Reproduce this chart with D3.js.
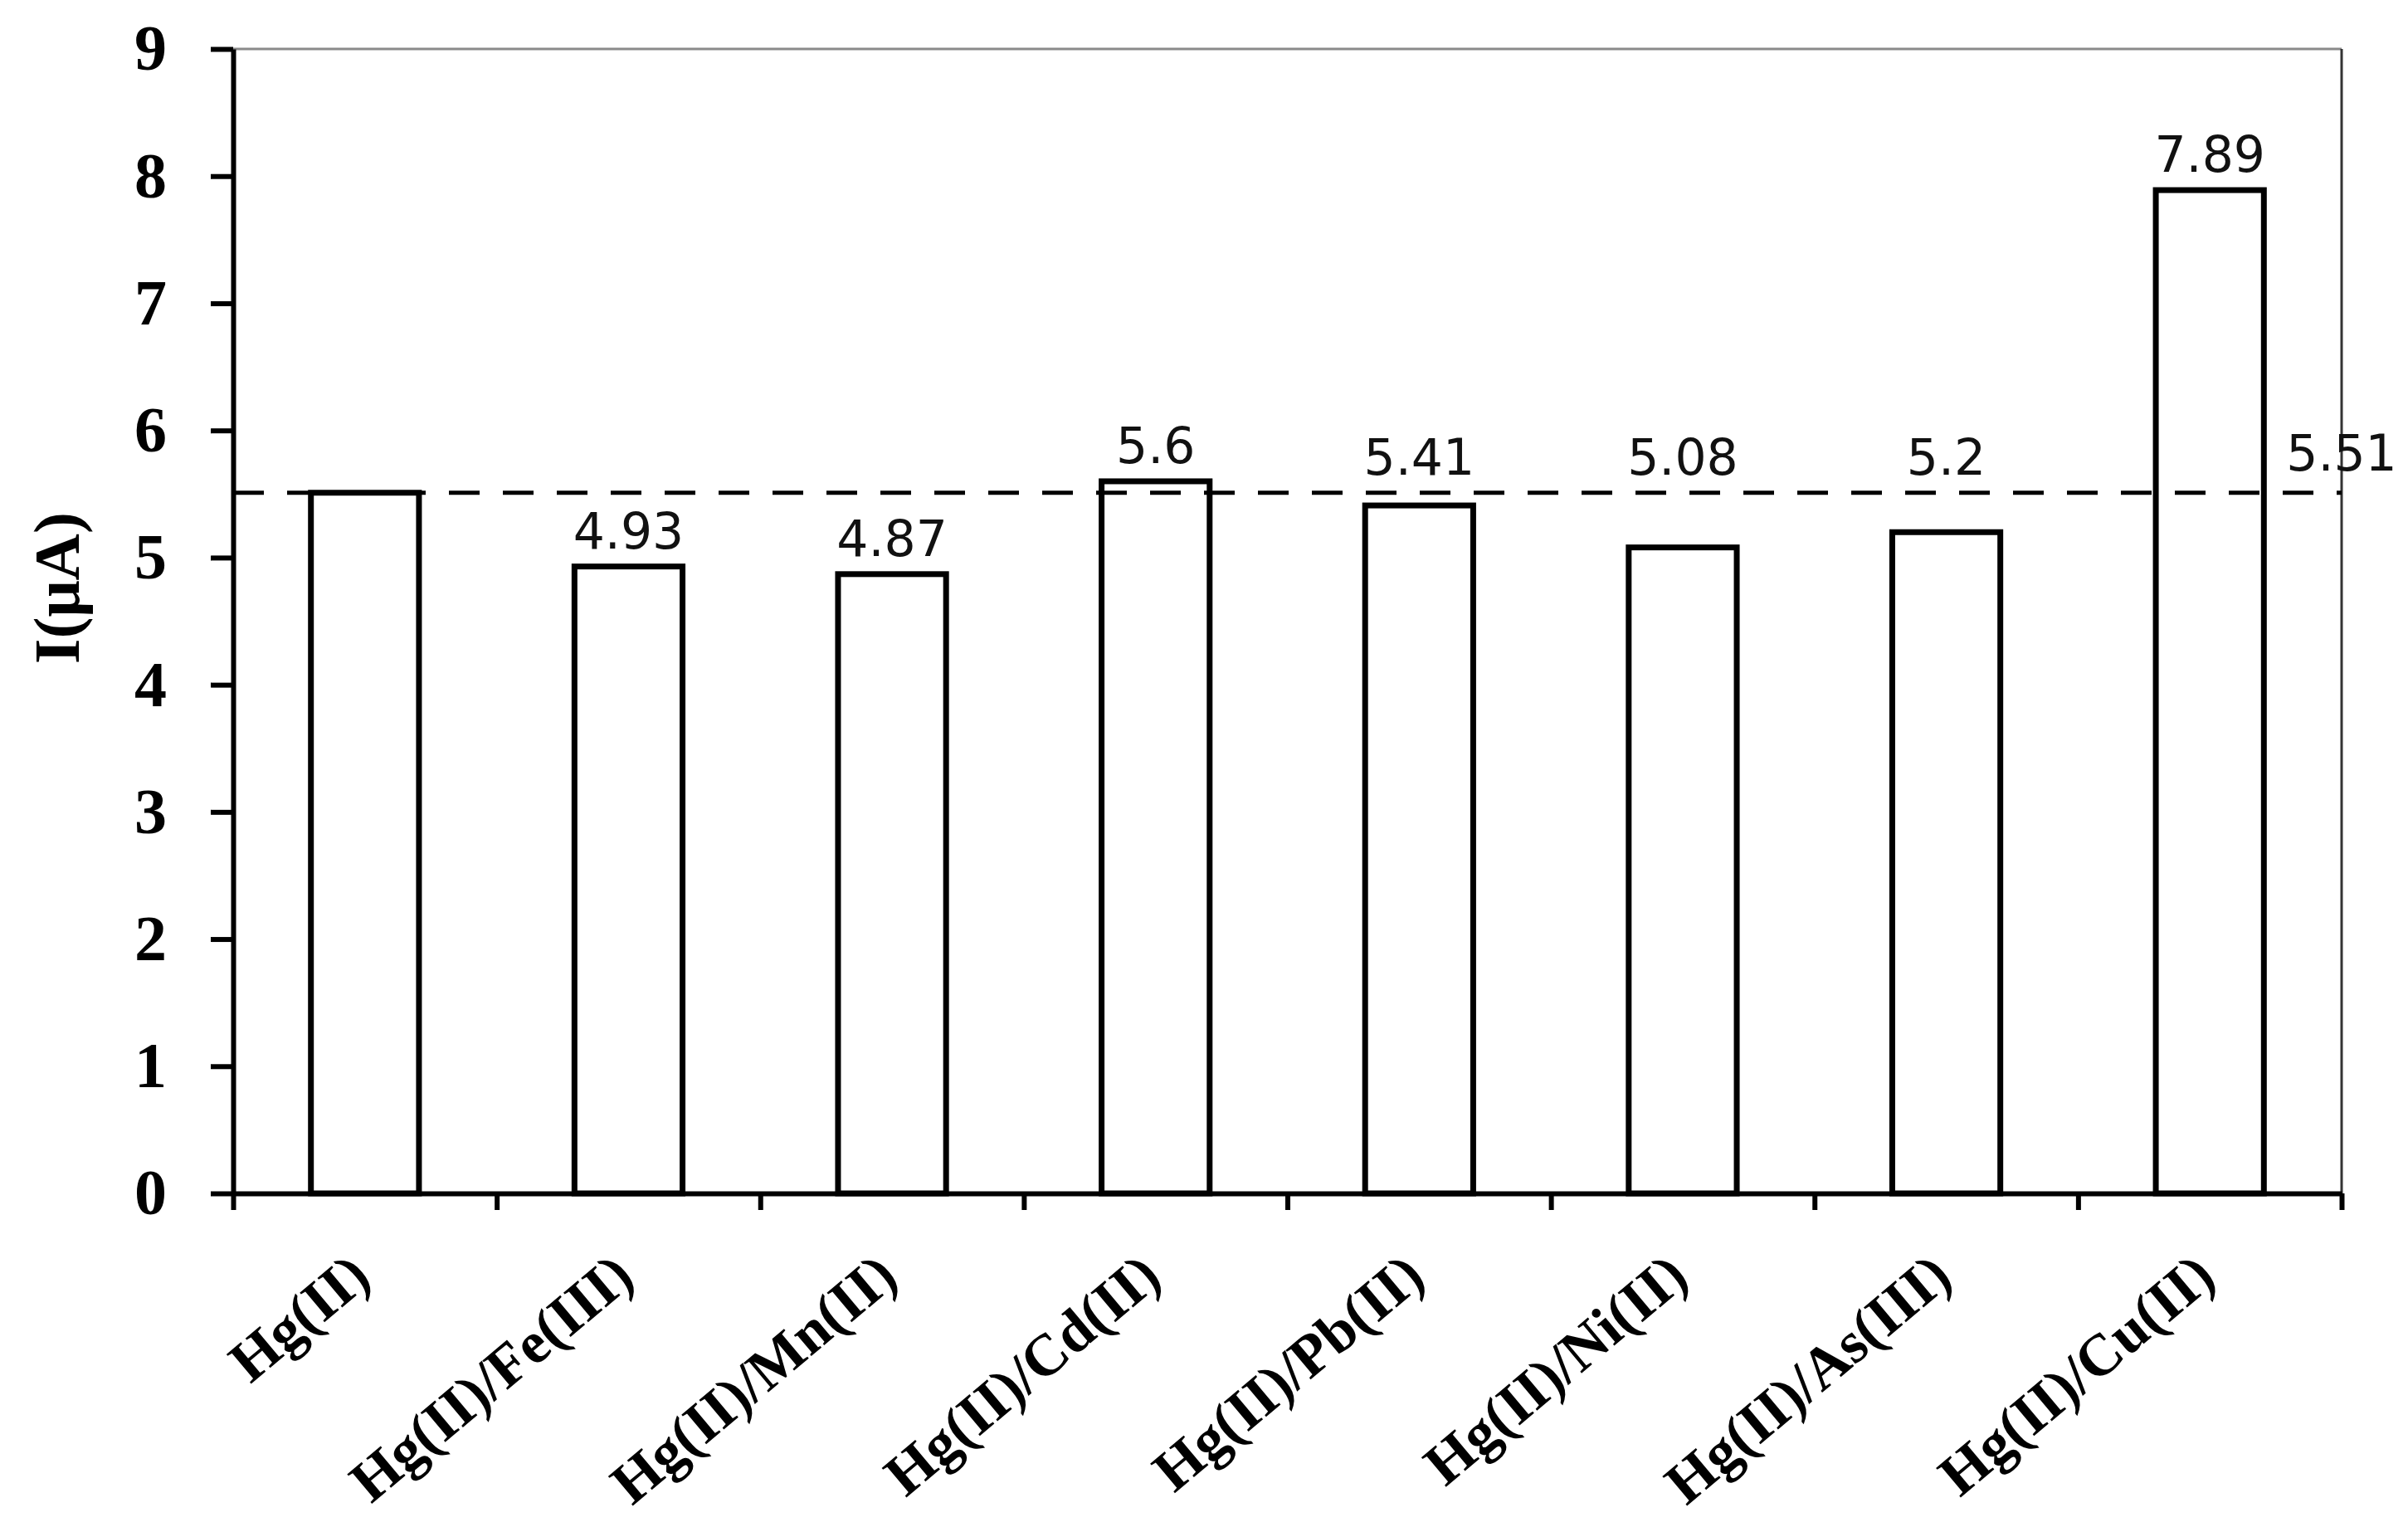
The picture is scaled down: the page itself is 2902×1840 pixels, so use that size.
<!DOCTYPE html>
<html>
<head>
<meta charset="utf-8">
<script src="https://cdn.jsdelivr.net/npm/d3@7"></script>
<style>
  body { margin: 0; background: #fff; }
  .axis text { font-family: "Liberation Serif", "Times New Roman", serif; font-weight: bold; font-size: 78px; fill: #000; }
  .axis path, .axis line { stroke: #000; stroke-width: 6; }
  .axis text.cat { font-size: 71px; }
  .value { font-family: "DejaVu Sans", sans-serif; font-size: 60px; fill: #111; }
</style>
</head>
<body>
<div id="chart"></div>
<script>
var categories = ["Hg(II)", "Hg(II)/Fe(III)", "Hg(II)/Mn(II)", "Hg(II)/Cd(II)",
                  "Hg(II)/Pb(II)", "Hg(II)/Ni(II)", "Hg(II)/As(III)", "Hg(II)/Cu(II)"];
var values = [5.51, 4.93, 4.87, 5.6, 5.41, 5.08, 5.2, 7.89];
var refValue = 5.51;   // Hg(II) alone, shown as the dashed line
var yTicks = [0, 1, 2, 3, 4, 5, 6, 7, 8, 9];

var svg = d3.select("#chart").append("svg")
    .attr("width", 2902)
    .attr("height", 1840),
    margin = { top: 59, right: 80, bottom: 402, left: 281 },
    width = 2902 - margin.left - margin.right,
    height = 1840 - margin.top - margin.bottom;

var x = d3.scaleBand().domain(categories).range([0, width]).paddingInner(0.59).paddingOuter(0.295),
    xEdge = d3.scaleLinear().domain([0, categories.length]).range([0, width]),
    y = d3.scaleLinear().domain([0, 9]).range([height, 0]);

var g = svg.append("g")
    .attr("transform", "translate(" + margin.left + "," + margin.top + ")");

// top and right frame
g.append("line")
    .attr("x1", 0).attr("x2", width).attr("y1", 0).attr("y2", 0)
    .attr("stroke", "#8a8a8a").attr("stroke-width", 3);
g.append("line")
    .attr("x1", width).attr("x2", width).attr("y1", 0).attr("y2", height)
    .attr("stroke", "#333").attr("stroke-width", 3);

g.selectAll(".bar")
    .data(values)
    .enter().append("rect")
    .attr("class", "bar")
    .attr("x", function (d, i) { return x(categories[i]); })
    .attr("y", function (d) { return y(d); })
    .attr("width", x.bandwidth())
    .attr("height", function (d) { return height - y(d); })
    .attr("fill", "#fff")
    .attr("stroke", "#000")
    .attr("stroke-width", 7);

g.append("line")
    .attr("x1", 0).attr("x2", width)
    .attr("y1", y(refValue)).attr("y2", y(refValue))
    .attr("stroke", "#000")
    .attr("stroke-width", 5)
    .attr("stroke-dasharray", "37,28");

g.append("g")
    .attr("class", "axis axis--y")
    .call(d3.axisLeft(y).tickValues(yTicks).tickSize(27).tickSizeOuter(0).tickPadding(53));

g.append("g")
    .attr("class", "axis axis--x")
    .attr("transform", "translate(0," + height + ")")
    .call(d3.axisBottom(xEdge).tickValues(d3.range(categories.length + 1)).tickFormat("").tickSize(20).tickSizeOuter(0));

g.append("g")
    .attr("class", "axis")
    .selectAll("text")
    .data(categories)
    .enter().append("text")
    .attr("class", "cat")
    .attr("text-anchor", "end")
    .attr("transform", function (d) {
        return "translate(" + (x(d) + x.bandwidth() / 2 + 10) + "," + (height + 106) + ") rotate(-40)";
    })
    .text(function (d) { return d; });

// value labels: sit above the bar, or above the dashed line when there is no room under it
var lineY = y(refValue);
function labelY(v) {
    var top = y(v);
    if (top > lineY && top - lineY < 75) return lineY - 22;
    return top - 22;
}

g.selectAll(".value")
    .data(values.slice(1))
    .enter().append("text")
    .attr("class", "value")
    .attr("text-anchor", "middle")
    .attr("x", function (d, i) { return x(categories[i + 1]) + x.bandwidth() / 2; })
    .attr("y", function (d) { return labelY(d); })
    .text(function (d) { return d; });

g.append("text")
    .attr("class", "value")
    .attr("text-anchor", "middle")
    .attr("x", width)
    .attr("y", lineY - 27)
    .text(refValue);

svg.append("text")
    .attr("transform", "translate(95," + (margin.top + height / 2 - 40) + ") rotate(-90)")
    .attr("text-anchor", "middle")
    .attr("font-family", "Liberation Serif, serif")
    .attr("font-weight", "bold")
    .attr("font-size", 78)
    .text("I(μA)");
</script>
</body>
</html>
